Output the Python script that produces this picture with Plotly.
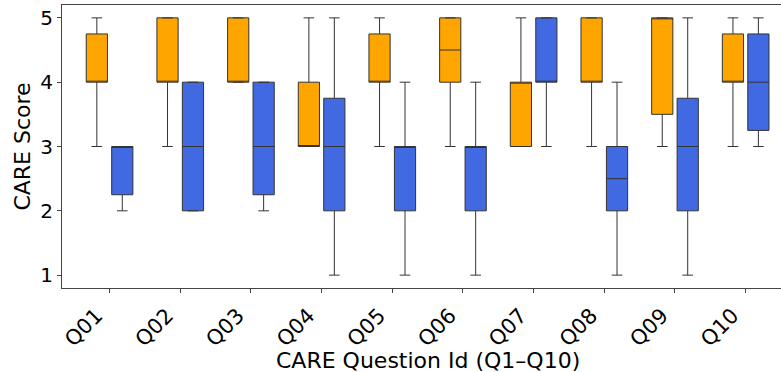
import plotly.graph_objects as go

# CARE questionnaire scores per question, two groups shown side by side
questions = ["Q01", "Q02", "Q03", "Q04", "Q05", "Q06", "Q07", "Q08", "Q09", "Q10"]

# Orange group box statistics
orange_q1 = [4, 4, 4, 3, 4, 4, 3, 4, 3.5, 4]
orange_median = [4, 4, 4, 3, 4, 4.5, 4, 4, 5, 4]
orange_q3 = [4.75, 5, 5, 4, 4.75, 5, 4, 5, 5, 4.75]
orange_low = [3, 3, 4, 3, 3, 3, 3, 3, 3, 3]
orange_high = [5, 5, 5, 5, 5, 5, 5, 5, 5, 5]

# Blue group box statistics
blue_q1 = [2.25, 2, 2.25, 2, 2, 2, 4, 2, 2, 3.25]
blue_median = [3, 3, 3, 3, 3, 3, 4, 2.5, 3, 4]
blue_q3 = [3, 4, 4, 3.75, 3, 3, 5, 3, 3.75, 4.75]
blue_low = [2, 2, 2, 1, 1, 1, 3, 1, 1, 3]
blue_high = [3, 4, 4, 5, 4, 4, 5, 4, 5, 5]

positions = list(range(1, len(questions) + 1))
offset = 0.18
box_width = 0.3

font_family = "DejaVu Sans"
line_color = "#333333"

fig = go.Figure()

fig.add_trace(go.Box(
    x=[p - offset for p in positions],
    q1=orange_q1, median=orange_median, q3=orange_q3,
    lowerfence=orange_low, upperfence=orange_high,
    width=box_width,
    fillcolor="orange",
    line=dict(color=line_color, width=1),
    whiskerwidth=0.5,
    name="orange",
    showlegend=False,
))

fig.add_trace(go.Box(
    x=[p + offset for p in positions],
    q1=blue_q1, median=blue_median, q3=blue_q3,
    lowerfence=blue_low, upperfence=blue_high,
    width=box_width,
    fillcolor="royalblue",
    line=dict(color=line_color, width=1),
    whiskerwidth=0.5,
    name="blue",
    showlegend=False,
))

fig.update_layout(
    width=781,
    height=372,
    margin=dict(l=62, r=0, t=5, b=84),
    plot_bgcolor="white",
    paper_bgcolor="white",
    boxmode="overlay",
    font=dict(family=font_family, color="black"),
    xaxis=dict(
        range=[0.327, 10.5],
        tickmode="array",
        tickvals=positions,
        ticktext=questions,
        tickangle=-45,
        tickfont=dict(size=21),
        ticklabelshift=-13,
        ticklabelstandoff=2,
        ticks="outside",
        ticklen=4,
        tickcolor="#444444",
        showline=True,
        linecolor="#444444",
        linewidth=1,
        mirror=True,
        showgrid=False,
        zeroline=False,
    ),
    yaxis=dict(
        range=[0.8, 5.2],
        tickvals=[1, 2, 3, 4, 5],
        tickfont=dict(size=20),
        ticks="outside",
        ticklen=4,
        tickcolor="#444444",
        showline=True,
        linecolor="#444444",
        linewidth=1,
        mirror=False,
        showgrid=False,
        zeroline=False,
        title=dict(text="CARE Score", font=dict(size=22), standoff=3),
    ),
    annotations=[dict(
        text="CARE Question Id (Q1–Q10)",
        x=5.5, xref="x",
        y=-0.256, yref="paper",
        xanchor="center", yanchor="middle",
        showarrow=False,
        font=dict(size=22, family=font_family, color="black"),
    )],
)

fig.write_html("out.html")
